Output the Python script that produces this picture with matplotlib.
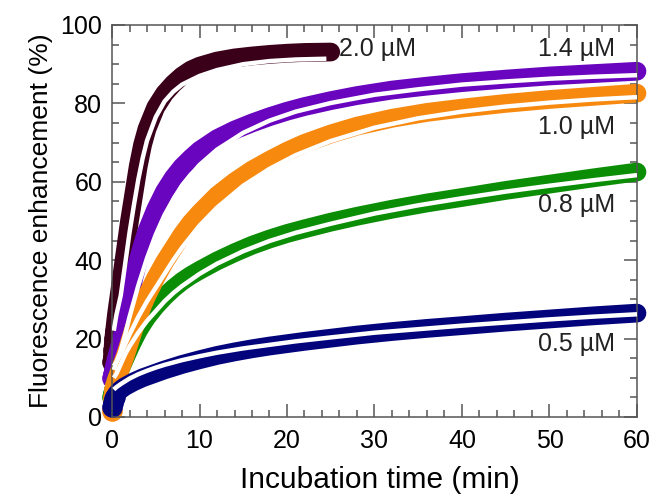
import numpy as np
import matplotlib
matplotlib.use('Agg')
import matplotlib.pyplot as plt
from matplotlib.ticker import MultipleLocator

plt.rcParams['font.family'] = ['Liberation Sans', 'DejaVu Sans']

# tempos das medidas (min)
t_dados = [0, 0.1, 0.2, 0.3, 0.5, 0.75, 1, 1.5, 2, 2.5, 3, 3.5, 4, 5, 6, 7, 8, 9, 10,
           12, 14, 16, 18, 20, 22, 25, 28, 32, 36, 40, 45, 50, 55, 60]
t_ajuste = [0.2, 0.5, 1, 1.5, 2, 3, 4, 5, 6, 7, 8, 10, 12, 15, 18, 21, 25, 30, 35, 40,
            45, 50, 55, 60]
t_ajuste_20 = [0.2, 0.5, 1, 1.5, 2, 2.5, 3, 3.5, 4, 5, 6, 7, 8, 10, 12, 15, 18, 21, 24.5]

# dados experimentais (%)
f_20 = [14, 17, 20, 22, 26, 30, 34, 42, 50, 57, 64, 69.5, 73.5, 79, 82.5, 85, 87, 88.5,
        89.5, 90.8, 91.6, 92.1, 92.5, 92.8, 93, 93.1]
f_14 = [10, 11, 12, 13, 15, 17, 19, 24, 30, 35.5, 40, 44, 47.5, 53, 57.5, 61, 63.8, 66,
        68, 71, 73.2, 75, 76.6, 78, 79.2, 80.7, 82, 83.4, 84.4, 85.3, 86.2, 87, 87.6, 88.2]
f_10 = [1.5, 5, 7, 8, 9.5, 11, 12.5, 15.5, 19, 22.5, 25.5, 28.5, 31, 35.5, 39.5, 43, 46.5,
        49.5, 52, 56.5, 60, 63, 65.5, 67.8, 69.8, 72.2, 74.2, 76.2, 77.7, 78.8, 80, 81,
        81.8, 82.6]
f_08 = [5, 6, 7, 8, 9.5, 11, 12.5, 15, 17.5, 19.8, 22, 23.8, 25.5, 28.3, 30.7, 32.8, 34.6,
        36.1, 37.4, 39.8, 41.9, 43.8, 45.4, 46.8, 48, 49.7, 51.2, 53, 54.6, 56, 57.8, 59.4,
        61, 62.5]
f_05 = [2.5, 3.5, 4.5, 5, 5.8, 6.5, 7, 7.8, 8.4, 9, 9.5, 10, 10.4, 11.2, 12, 12.7, 13.4,
        14, 14.6, 15.7, 16.6, 17.4, 18.1, 18.7, 19.3, 20.1, 20.9, 21.8, 22.6, 23.3, 24.2,
        25, 25.8, 26.5]

# curvas ajustadas (%)
a_20 = [22, 26, 31, 39, 47, 54, 60.5, 66, 70.5, 76.5, 80.5, 83, 84.8, 87, 88.5, 90,
        90.8, 91.2, 91.4]
a_14 = [12, 14, 17, 21, 25.5, 33.5, 40.5, 46.5, 51.5, 55.5, 59, 64.3, 68.2, 72.5, 75.6,
        77.9, 80.1, 82.2, 83.6, 84.8, 85.6, 86.3, 86.8, 87.2]
a_10 = [13, 14, 16, 18.5, 21, 25.5, 29.5, 33, 36.5, 40, 43.2, 48.8, 53.4, 59, 63.3, 66.8,
        70.4, 73.8, 76.2, 77.9, 79.2, 80.2, 81, 81.6]
a_08 = [10, 11, 13.5, 16, 18, 21.5, 24.5, 27, 29.5, 31.6, 33.4, 36.5, 39.1, 42.3, 44.9,
        47, 49.3, 51.9, 54, 55.8, 57.5, 59, 60.4, 61.7]
a_05 = [7, 7.6, 8.4, 9.1, 9.8, 10.9, 11.8, 12.6, 13.3, 13.9, 14.5, 15.5, 16.4, 17.5, 18.4,
        19.3, 20.3, 21.5, 22.4, 23.3, 24.1, 24.9, 25.6, 26.2]

rotulos = ['2.0 µM', '1.4 µM', '1.0 µM', '0.8 µM', '0.5 µM']
cores = ['#3b0019', '#6a05bf', '#f7890f', '#0b8e05', '#03037c']

fig = plt.figure(figsize=(6.55, 4.97), dpi=100)
ax = fig.add_axes([0.171, 0.161, 0.8015, 0.7887])

# bandas de dados (circulos abertos sobrepostos)
series = [(t_dados[:len(f_20)], f_20, cores[0]),
          (t_dados, f_14, cores[1]),
          (t_dados, f_08, cores[3]),
          (t_dados, f_10, cores[2]),
          (t_dados, f_05, cores[4])]
for t, f, c in series:
    ax.plot(t, f, '-', color=c, lw=13.5, solid_capstyle='round',
            solid_joinstyle='round', clip_on=False, zorder=2)
    ax.plot(t[:4], f[:4], 'o', mfc='none', mec=c, ms=13.5, mew=1.3,
            clip_on=False, zorder=2)

# curvas de ajuste em branco
for t, a in [(t_ajuste_20, a_20), (t_ajuste, a_14), (t_ajuste, a_10),
             (t_ajuste, a_08), (t_ajuste, a_05)]:
    ax.plot(t, a, '-', color='white', lw=3.2, solid_capstyle='butt', zorder=3)

# rotulos das concentracoes
cor_txt = '#222222'
ax.text(26, 94, rotulos[0], fontsize=18, color=cor_txt, ha='left', va='center')
ax.text(57.5, 94, rotulos[1], fontsize=18, color=cor_txt, ha='right', va='center')
ax.text(57.5, 74, rotulos[2], fontsize=18, color=cor_txt, ha='right', va='center')
ax.text(57.5, 54, rotulos[3], fontsize=18, color=cor_txt, ha='right', va='center')
ax.text(57.5, 18.6, rotulos[4], fontsize=18, color=cor_txt, ha='right', va='center')

ax.set_xlim(0, 60)
ax.set_ylim(0, 100)
ax.xaxis.set_major_locator(MultipleLocator(10))
ax.xaxis.set_minor_locator(MultipleLocator(2))
ax.yaxis.set_major_locator(MultipleLocator(20))
ax.yaxis.set_minor_locator(MultipleLocator(5))

cor_eixo = '#555555'
for s in ax.spines.values():
    s.set_color(cor_eixo)
    s.set_linewidth(1.1)
ax.tick_params(which='both', direction='in', top=True, right=True, color=cor_eixo,
               width=1.1, labelsize=18, labelcolor='black')
ax.tick_params(which='major', length=9.5, pad=7)
ax.tick_params(axis='x', which='major', pad=8.5)
ax.tick_params(which='minor', length=5)

ax.set_xlabel('Incubation time (min)', fontsize=21.5, labelpad=9)
ax.xaxis.set_label_coords(0.51, -0.125)
ax.set_ylabel('Fluorescence enhancement (%)', fontsize=19, labelpad=5)

fig.savefig('out.png', dpi=100)
